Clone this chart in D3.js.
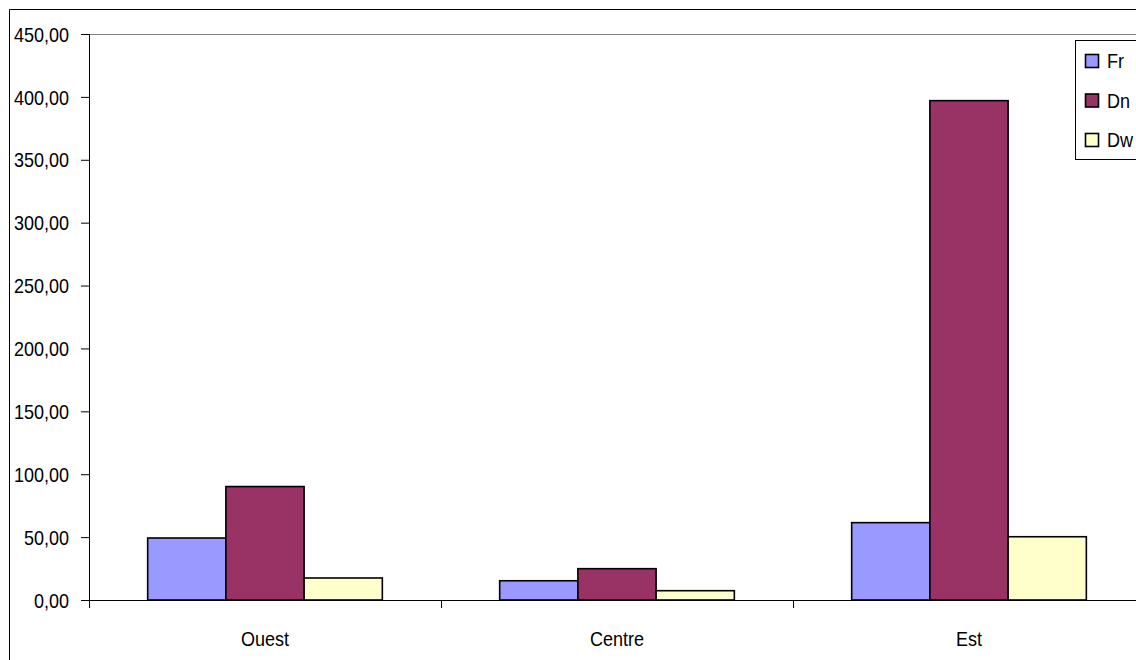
<!DOCTYPE html>
<html><head><meta charset="utf-8">
<script src="https://cdn.jsdelivr.net/npm/d3@7"></script>
<style>body{margin:0;background:#fff}svg{display:block}text{font-family:"Liberation Sans",Arial,sans-serif;}</style>
</head><body>
<svg id="c" width="1136" height="660"></svg>
<script>
const categories = ["Ouest", "Centre", "Est"];
const seriesNames = ["Fr", "Dn", "Dw"];
const seriesColors = ["#9999FF", "#993366", "#FFFFCC"];
const valuesFr = [49.3, 15.3, 61.5];
const valuesDn = [90.2, 24.9, 397.0];
const valuesDw = [17.5, 7.4, 50.3];
const yTicks = [0, 50, 100, 150, 200, 250, 300, 350, 400, 450];

const seriesValues = [valuesFr, valuesDn, valuesDw];
const svg = d3.select("#c");
const plotL = 89, plotT = 34, plotB = 600, bandW = 352;
const FS = 20, SX = 0.9;
const x = d3.scaleBand().domain(categories).range([plotL, plotL + bandW * 3]).paddingInner(0).paddingOuter(0);
const y = d3.scaleLinear().domain([0, 450]).range([plotB, plotT]);

// outer chart border
svg.append("path").attr("d", `M9.5,700V9.5H1200`).attr("fill", "none").attr("stroke", "#000").attr("stroke-width", 1);
// plot area top border
svg.append("line").attr("x1", plotL).attr("x2", 1136).attr("y1", plotT + 0.5).attr("y2", plotT + 0.5).attr("stroke", "#808080").attr("stroke-width", 1);

const fmt = v => d3.format(".2f")(v).replace(".", ",");

// bars
const inner = d3.scaleBand().domain(seriesNames).range([0, bandW]).paddingOuter(0.75).paddingInner(0);
seriesNames.forEach((s, si) => {
  svg.append("g").selectAll("rect").data(categories).join("rect")
    .attr("x", c => x(c) + inner(s))
    .attr("y", (c, i) => y(seriesValues[si][i]))
    .attr("width", inner.bandwidth())
    .attr("height", (c, i) => y(0) - y(seriesValues[si][i]))
    .attr("fill", seriesColors[si])
    .attr("stroke", "#000").attr("stroke-width", 1.6);
});

// y axis
const yAxis = d3.axisLeft(y).tickValues(yTicks).tickFormat(fmt).tickSize(8).tickPadding(12);
const gy = svg.append("g").attr("transform", `translate(${plotL},0)`).call(yAxis);
gy.select(".domain").attr("stroke", "#000").attr("d", `M0.5,${plotT}V${plotB}`);
gy.selectAll(".tick line").attr("stroke", "#000");
gy.selectAll("text").attr("x", 0).attr("dy", "0.36em")
  .attr("transform", `translate(-20,0) scale(${SX},1)`)
  .attr("font-size", FS).attr("font-family", '"Liberation Sans", Arial, sans-serif').attr("fill", "#000");

// x axis
const xAxis = d3.axisBottom(x).tickSize(0).tickPadding(0);
const gx = svg.append("g").attr("transform", `translate(0,${plotB})`).call(xAxis);
gx.select(".domain").attr("stroke", "#000").attr("d", `M${plotL},0.5H1136`);
gx.selectAll("text").attr("y", 0).attr("dy", "0.36em")
  .attr("transform", `translate(0,39) scale(${SX},1)`)
  .attr("font-size", FS).attr("font-family", '"Liberation Sans", Arial, sans-serif').attr("fill", "#000");
// category separator ticks
const sepTicks = categories.map(c => x(c)).concat([x(categories[2]) + bandW]);
gx.selectAll(".sep").data(sepTicks).join("line").attr("class", "sep")
  .attr("x1", d => Math.round(d) + 0.5).attr("x2", d => Math.round(d) + 0.5)
  .attr("y1", 0).attr("y2", 8).attr("stroke", "#000");

// legend
const lg = svg.append("g");
lg.append("rect").attr("x", 1075.5).attr("y", 40.5).attr("width", 100).attr("height", 119).attr("fill", "#fff").attr("stroke", "#000");
const lgY = d3.scalePoint().domain(seriesNames).range([61, 140]);
lg.selectAll("rect.sw").data(seriesNames).join("rect").attr("class", "sw")
  .attr("x", 1085.5).attr("y", d => lgY(d) - 6.5).attr("width", 13).attr("height", 13)
  .attr("fill", (d, i) => seriesColors[i]).attr("stroke", "#000").attr("stroke-width", 1.6);
lg.selectAll("text").data(seriesNames).join("text")
  .attr("transform", d => `translate(1107,${lgY(d)}) scale(${SX},1)`).attr("dy", "0.36em")
  .attr("font-size", FS).attr("fill", "#000").text(d => d);
</script>
</body></html>
